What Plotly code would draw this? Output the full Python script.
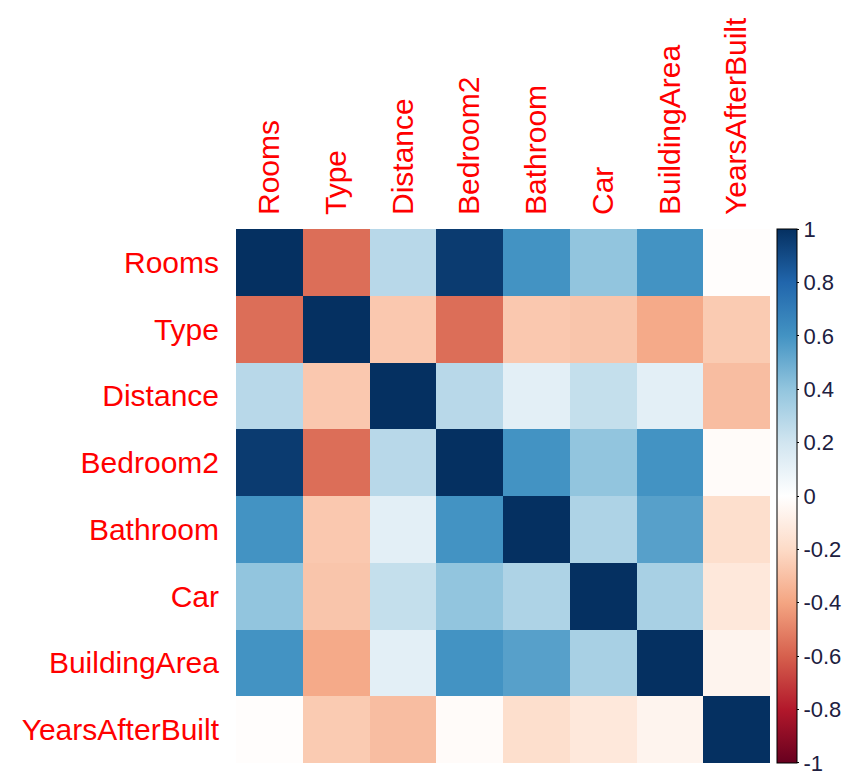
import plotly.graph_objects as go

# Variables of the housing data set
variables = ["Rooms", "Type", "Distance", "Bedroom2", "Bathroom", "Car",
             "BuildingArea", "YearsAfterBuilt"]

# Pairwise correlation coefficients, one row per variable
rooms_row = [1.00, -0.56, 0.28, 0.96, 0.60, 0.40, 0.60, -0.01]
type_row = [-0.56, 1.00, -0.27, -0.56, -0.27, -0.28, -0.38, -0.26]
distance_row = [0.28, -0.27, 1.00, 0.28, 0.12, 0.24, 0.12, -0.31]
bedroom2_row = [0.96, -0.56, 0.28, 1.00, 0.60, 0.40, 0.60, -0.02]
bathroom_row = [0.60, -0.27, 0.12, 0.60, 1.00, 0.31, 0.55, -0.18]
car_row = [0.40, -0.28, 0.24, 0.40, 0.31, 1.00, 0.33, -0.13]
buildingarea_row = [0.60, -0.38, 0.12, 0.60, 0.55, 0.33, 1.00, -0.06]
yearsafterbuilt_row = [-0.01, -0.26, -0.31, -0.02, -0.18, -0.13, -0.06, 1.00]

corr = [rooms_row, type_row, distance_row, bedroom2_row, bathroom_row,
        car_row, buildingarea_row, yearsafterbuilt_row]

# Colour bar ticks
cbar_ticks = [1, 0.8, 0.6, 0.4, 0.2, 0, -0.2, -0.4, -0.6, -0.8, -1]
cbar_labels = ["1", "0.8", "0.6", "0.4", "0.2", "0", "-0.2", "-0.4",
               "-0.6", "-0.8", "-1"]

# corrplot's default diverging palette
palette = ["#67001F", "#B2182B", "#D6604D", "#F4A582", "#FDDBC7", "#FFFFFF",
           "#D1E5F0", "#92C5DE", "#4393C3", "#2166AC", "#053061"]
colorscale = [[i / (len(palette) - 1), c] for i, c in enumerate(palette)]

fig = go.Figure(
    go.Heatmap(
        z=corr,
        x=variables,
        y=variables,
        zmin=-1.0005,
        zmax=1.0005,
        colorscale=colorscale,
        colorbar=dict(
            tickmode="array",
            tickvals=cbar_ticks,
            ticktext=cbar_labels,
            ticks="outside",
            ticklen=2,
            tickwidth=1,
            tickcolor="black",
            tickfont=dict(family="Liberation Sans", size=22, color="#20203f"),
            ticklabeloverflow="allow",
            outlinecolor="black",
            outlinewidth=1,
            thickness=20,
            lenmode="pixels",
            len=534,
            x=1.0,
            xref="paper",
            xanchor="left",
            xpad=7,
            y=0.5,
            yanchor="middle",
            ypad=0,
        ),
    )
)

label_font = dict(family="Liberation Sans", size=30, color="red")

fig.update_xaxes(
    side="top",
    tickangle=-90,
    tickfont=label_font,
    ticks="outside",
    ticklen=7,
    tickcolor="rgba(0,0,0,0)",
    showgrid=False,
    zeroline=False,
    showline=False,
)
fig.update_yaxes(
    autorange="reversed",
    tickfont=label_font,
    ticks="outside",
    ticklen=10,
    tickcolor="rgba(0,0,0,0)",
    showgrid=False,
    zeroline=False,
    showline=False,
)

fig.update_layout(
    width=843,
    height=776,
    margin=dict(l=236, r=73, t=229, b=13, autoexpand=False),
    plot_bgcolor="white",
    paper_bgcolor="white",
)

fig.write_html("out.html")
